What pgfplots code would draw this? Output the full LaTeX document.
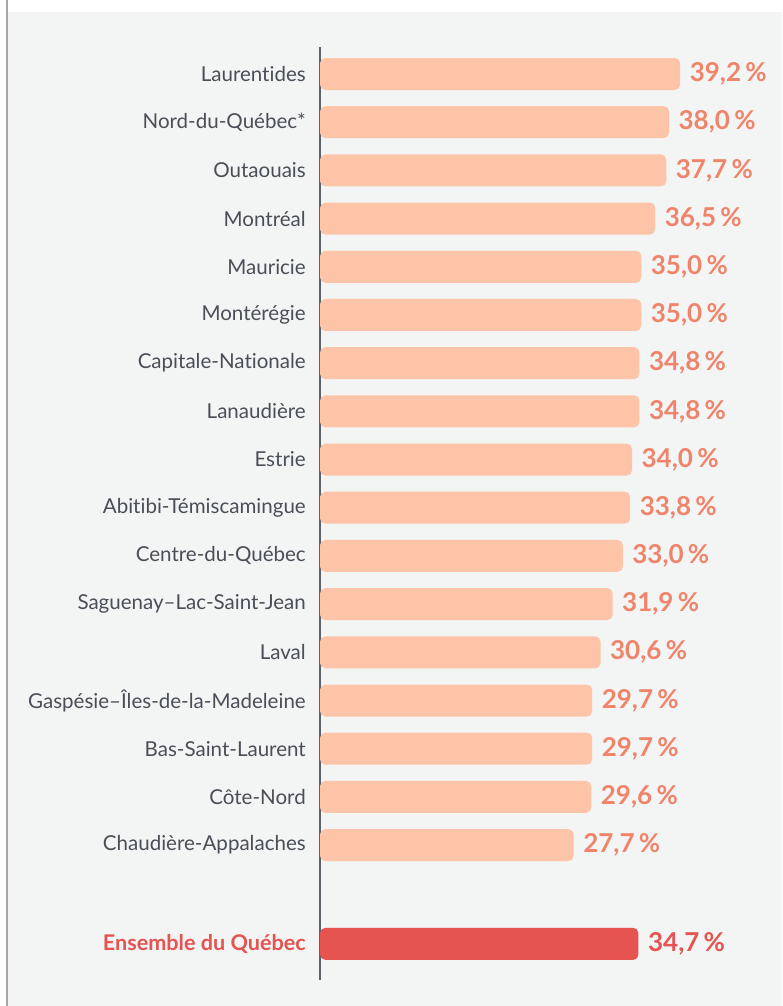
\documentclass[border=0pt]{standalone}
\usepackage{pgfplots}
\pgfplotsset{compat=1.18}
\usepackage{fontspec}
\setmainfont{Lato}[Ligatures=NoCommon]
\definecolor{bgc}{HTML}{F3F4F4}
\definecolor{barc}{HTML}{FEC4A7}
\definecolor{labc}{HTML}{F0846B}
\definecolor{redc}{HTML}{E55451}
\definecolor{txtc}{HTML}{4A4F57}
\definecolor{axc}{HTML}{5C6067}
\begin{document}
\begin{tikzpicture}
\fill[white] (0,0) rectangle (586.5pt,-754.5pt);
\fill[bgc] (6pt,-9pt) rectangle (586.5pt,-754.5pt);
\draw[line width=0.9pt, color=black!35] (5.2pt,0) -- (5.2pt,-754.5pt);
\begin{axis}[
    at={(240pt,-735pt)}, anchor=south west,
    scale only axis, width=346.5pt, height=699.75pt,
    xmin=0.3, xmax=50.2, ymin=-0.56, ymax=18.8, y dir=reverse,
    hide x axis, axis y line*=left,
    y axis line style={color=axc, line width=1pt},
    ytick={0,1,2,3,4,5,6,7,8,9,10,11,12,13,14,15,16,18.05},
    yticklabels={Laurentides, Nord-du-Québec*, Outaouais, Montréal, Mauricie,
      Montérégie, Capitale-Nationale, Lanaudière, Estrie, Abitibi-Témiscamingue,
      Centre-du-Québec, Saguenay–Lac-Saint-Jean, Laval,
      Gaspésie–Îles-de-la-Madeleine, Bas-Saint-Laurent, Côte-Nord,
      Chaudière-Appalaches,
      {\fontsize{16.2}{19}\selectfont\textcolor{redc}{\bfseries Ensemble du Québec}}},
    major tick length=0pt,
    yticklabel style={font=\fontsize{15.4}{19}\selectfont, color=txtc, inner sep=0pt, xshift=-10.5pt},
    xbar, bar width=24pt,
    point meta=explicit symbolic,
    nodes near coords={\pgfplotspointmeta\,\%},
    nodes near coords style={anchor=west, inner sep=0pt, xshift=7pt,
      font=\fontsize{19.5}{23}\selectfont\bfseries},
]
\addplot[xbar, bar shift=0pt, fill=barc, draw=none, rounded corners=4pt,
  nodes near coords style={color=labc}]
  coordinates {
  (39.2,0) [39,2]
  (38.0,1) [38,0]
  (37.7,2) [37,7]
  (36.5,3) [36,5]
  (35.0,4) [35,0]
  (35.0,5) [35,0]
  (34.8,6) [34,8]
  (34.8,7) [34,8]
  (34.0,8) [34,0]
  (33.8,9) [33,8]
  (33.0,10) [33,0]
  (31.9,11) [31,9]
  (30.6,12) [30,6]
  (29.7,13) [29,7]
  (29.7,14) [29,7]
  (29.6,15) [29,6]
  (27.7,16) [27,7]
  };
\addplot[xbar, bar shift=0pt, fill=redc, draw=none, rounded corners=4pt,
  nodes near coords style={color=redc}]
  coordinates {(34.7,18.05) [34,7]};
\end{axis}
\pgfresetboundingbox
\useasboundingbox (0,0) rectangle (586.5pt,-754.5pt);
\end{tikzpicture}
\end{document}
